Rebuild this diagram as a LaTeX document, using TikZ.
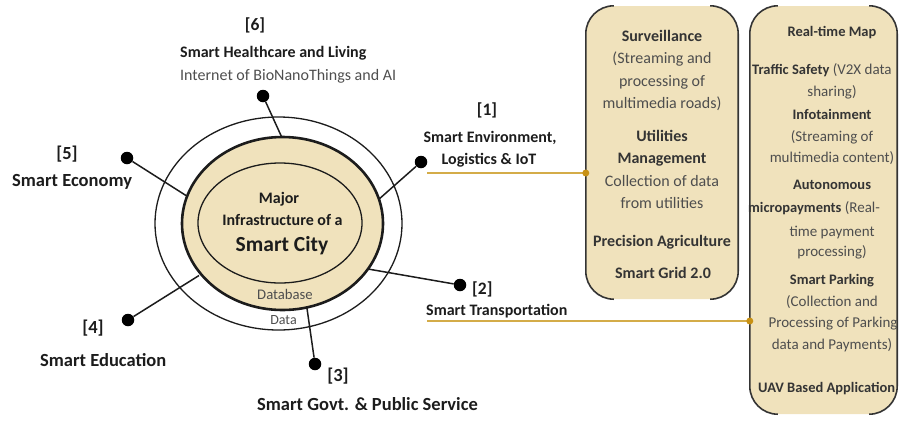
\documentclass[tikz,border=0pt]{standalone}
\usepackage{fontspec}
\setmainfont{Carlito}
\usetikzlibrary{shapes.geometric}
\definecolor{tanfill}{RGB}{240,226,188}
\definecolor{goldline}{RGB}{212,172,72}
\definecolor{golddot}{RGB}{200,145,20}
\definecolor{ink}{RGB}{28,28,28}
\definecolor{boxink}{RGB}{52,52,52}
\definecolor{soft}{RGB}{78,78,78}
\begin{document}
\begin{tikzpicture}[x=1pt,y=-1pt,
  lab/.style={inner sep=0pt,text=ink,font=\fontsize{16}{19}\selectfont\bfseries},
  biglab/.style={inner sep=0pt,text=ink,font=\fontsize{18.5}{22}\selectfont\bfseries},
  num/.style={inner sep=0pt,text=ink,font=\fontsize{17.5}{20}\selectfont\bfseries},
  sublab/.style={inner sep=0pt,text=soft,font=\fontsize{16}{19}\selectfont},
  b1b/.style={inner sep=0pt,anchor=base,text=boxink,font=\fontsize{16}{19}\selectfont\bfseries},
  b1n/.style={inner sep=0pt,anchor=base,text=soft,font=\fontsize{16}{19}\selectfont},
  b2b/.style={inner sep=0pt,anchor=base,text=boxink,font=\fontsize{14.5}{17}\selectfont\bfseries},
  b2n/.style={inner sep=0pt,anchor=base,text=soft,font=\fontsize{15}{17}\selectfont},
  bigdot/.style={circle,fill=black,inner sep=0pt,minimum size=12.5pt},
  gdot/.style={circle,fill=golddot,inner sep=0pt,minimum size=7pt},
  conn/.style={draw=ink,line width=1.5pt},
  gconn/.style={draw=goldline,line width=1.6pt},
  boxside/.style={draw=boxink,line width=1.6pt,rounded corners=28pt},
  panel/.style={fill=tanfill,rounded corners=28pt,inner sep=0pt}
]
\useasboundingbox (0,0) rectangle (899,424);

% ---------- right panels ----------
\node[panel,minimum width=152pt,minimum height=293pt] (box1) at (662,152.5) {};
\draw[boxside] ([xshift=28pt]box1.north west) -- (box1.north west) -- (box1.south west) -- ([xshift=28pt]box1.south west);
\draw[boxside] ([xshift=-28pt]box1.north east) -- (box1.north east) -- (box1.south east) -- ([xshift=-28pt]box1.south east);

\node[panel,minimum width=147pt,minimum height=408pt] (box2) at (823.5,210) {};
\draw[boxside] ([xshift=28pt]box2.north west) -- (box2.north west) -- (box2.south west) -- ([xshift=28pt]box2.south west);
\draw[boxside] ([xshift=-28pt]box2.north east) -- (box2.north east) -- (box2.south east) -- ([xshift=-28pt]box2.south east);

% ---------- golden connectors ----------
\coordinate (g1s) at (427,173);
\coordinate (g2s) at (427,321);
\draw[gconn] (g1s) -- (box1.west |- g1s);
\draw[gconn] (g2s) -- (box2.west |- g2s);
\node[gdot] (gd1) at (box1.west |- g1s) {};
\node[gdot] (gd2) at (box2.west |- g2s) {};

% ---------- circle of city ----------
\node[ellipse,draw=ink,line width=1.3pt,minimum width=247pt,minimum height=213pt,inner sep=0pt] (outer) at (278.5,223.5) {};

\node[bigdot] (d6) at (263,96) {};
\node[bigdot] (d5) at (127,158) {};
\node[bigdot] (d1) at (421,162) {};
\node[bigdot] (d2) at (460,285) {};
\node[bigdot] (d3) at (315,364) {};
\node[bigdot] (d4) at (128,320) {};

\coordinate (e6) at (283.5,141);
\coordinate (e5) at (186,195.5);
\coordinate (e1) at (378,200);
\coordinate (e2) at (368,269);
\coordinate (e3) at (306.5,305);
\coordinate (e4) at (199,275.5);

\draw[conn] (d6) -- (e6);
\draw[conn] (d5) -- (e5);
\draw[conn] (d1) -- (e1);
\draw[conn] (d2) -- (e2);
\draw[conn] (d3) -- (e3);
\draw[conn] (d4) -- (e4);

\node[ellipse,draw=ink,line width=2.6pt,fill=tanfill,minimum width=201pt,minimum height=173pt,inner sep=0pt] (mid) at (282.5,223.5) {};
\node[ellipse,draw=ink,line width=1.3pt,minimum width=164pt,minimum height=120pt,inner sep=0pt] (inner) at (280,223) {};

\node[lab,anchor=base] (t1) at (279,203) {Major};
\node[lab,anchor=base] (t2) at (282.5,225) {Infrastructure of a};
\node[inner sep=0pt,anchor=base,text=ink,font=\fontsize{21.5}{25}\selectfont\bfseries] (t3) at (282,251.5) {Smart City};
\node[inner sep=0pt,anchor=base,text=soft,font=\fontsize{14.7}{17}\selectfont] (db) at (285,299.5) {Database};
\node[inner sep=0pt,anchor=base,text=soft,font=\fontsize{14}{17}\selectfont] (da) at (283.5,324.5) {Data};

% ---------- labels ----------
\node[num,anchor=base] (n6) at (255,30) {[6]};
\node[lab,anchor=base west] (l6a) at (180,57) {Smart Healthcare and Living};
\node[sublab,anchor=base west] (l6b) at (180,80) {Internet of BioNanoThings and AI};

\node[num,anchor=base] (n1) at (487,115.5) {[1]};
\node[lab,anchor=base] (l1a) at (490,142) {Smart Environment,};
\node[lab,anchor=base] (l1b) at (489,164) {Logistics \& IoT};

\node[num,anchor=base west] (n2) at (472,294.5) {[2]};
\node[lab,anchor=base west] (l2) at (426,315) {Smart Transportation};

\node[biglab,anchor=base] (n5) at (67,159) {[5]};
\node[biglab,anchor=base west] (l5) at (12,186) {Smart Economy};

\node[biglab,anchor=base] (n4) at (93,333) {[4]};
\node[biglab,anchor=base west] (l4) at (40,366) {Smart Education};

\node[biglab,anchor=base] (n3) at (338,381) {[3]};
\node[biglab,anchor=base west] (l3) at (257,410) {Smart Govt. \& Public Service};

% ---------- box 1 text ----------
\node[b1b] (s1) at (662,41) {Surveillance};
\node[b1n] (s2) at (662,63) {(Streaming and};
\node[b1n] (s3) at (662,86) {processing of};
\node[b1n] (s4) at (662,108) {multimedia roads)};
\node[b1b] (u1) at (662,141) {Utilities};
\node[b1b] (u2) at (662,163) {Management};
\node[b1n] (u3) at (662,186) {Collection of data};
\node[b1n] (u4) at (662,208) {from utilities};
\node[b1b] (pa) at (662,246) {Precision Agriculture};
\node[b1b] (sg) at (663,278) {Smart Grid 2.0};

% ---------- box 2 text ----------
\node[b2b] (r1) at (832,36.5) {Real-time Map};
\node[b2n,anchor=base west] (r2) at (752,74.5) {\textcolor{boxink}{\fontsize{14.5}{17}\selectfont\bfseries Traffic Safety} (V2X data};
\node[b2n] (r3) at (832,96.5) {sharing)};
\node[b2b] (r4) at (832,119.5) {Infotainment};
\node[b2n] (r5) at (832,141.5) {(Streaming of};
\node[b2n] (r6) at (832,162.5) {multimedia content)};
\node[b2b] (r7) at (832,189.5) {Autonomous};
\node[b2n,anchor=base west] (r8) at (748,212.5) {\textcolor{boxink}{\fontsize{14.5}{17}\selectfont\bfseries micropayments} (Real-};
\node[b2n] (r9) at (832,236.5) {time payment};
\node[b2n] (r10) at (832,256.5) {processing)};
\node[b2b] (r11) at (832,284.5) {Smart Parking};
\node[b2n] (r12) at (832,306.5) {(Collection and};
\node[b2n] (r13) at (833,327.5) {Processing of Parking};
\node[b2n] (r14) at (832,349.5) {data and Payments)};
\node[b2b,anchor=base west] (r15) at (758,392.5) {UAV Based Application};
\end{tikzpicture}
\end{document}
